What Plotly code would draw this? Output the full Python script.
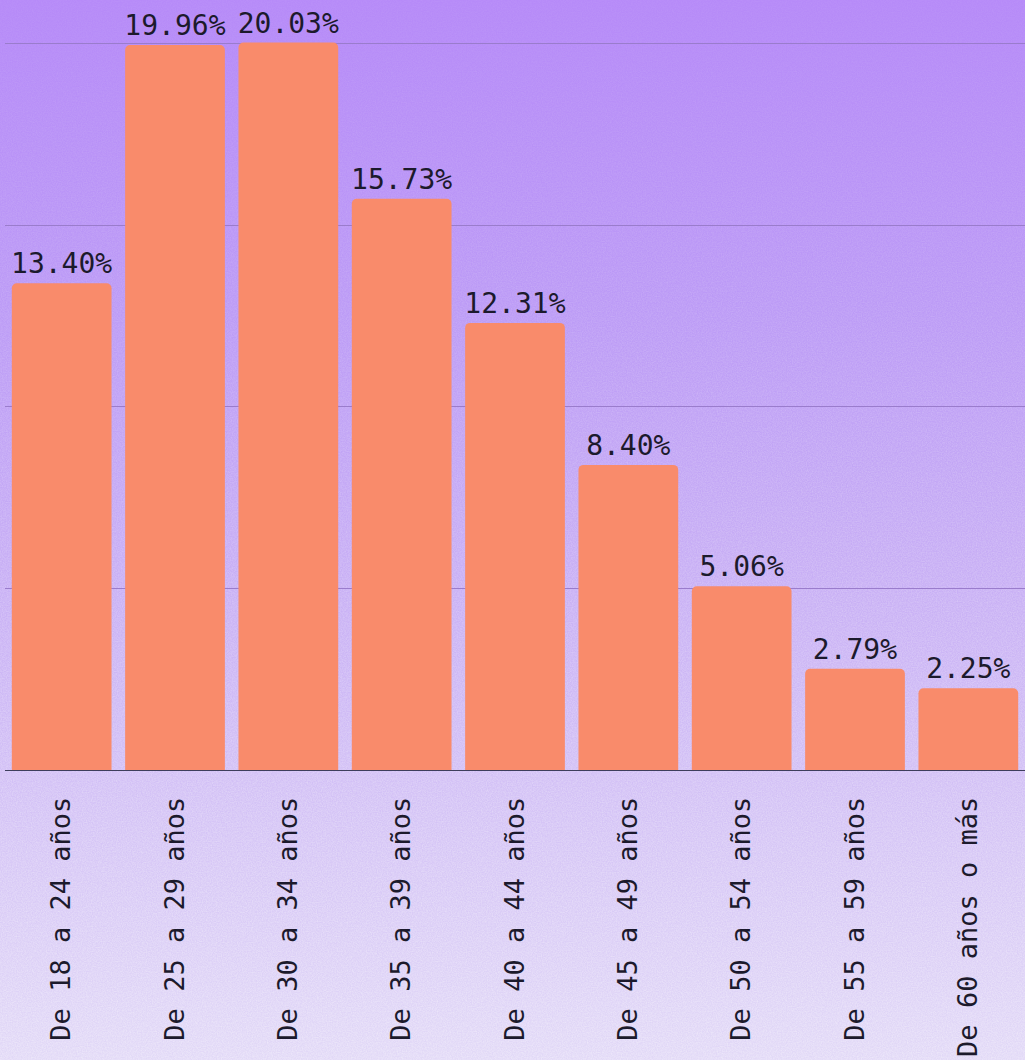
import base64
import plotly.graph_objects as go

categories = ["De 18 a 24 años", "De 25 a 29 años", "De 30 a 34 años", "De 35 a 39 años",
              "De 40 a 44 años", "De 45 a 49 años", "De 50 a 54 años", "De 55 a 59 años",
              "De 60 años o más"]
values = [13.40, 19.96, 20.03, 15.73, 12.31, 8.40, 5.06, 2.79, 2.25]

W, H = 1025, 1060
ML, MR, MT, MB = 5, 0, 0, 290
PW, PH = W - ML - MR, H - MT - MB

svg = f"""<svg xmlns='http://www.w3.org/2000/svg' width='{W}' height='{H}' viewBox='0 0 {W} {H}' preserveAspectRatio='none'>
<defs>
<linearGradient id='g' x1='0' y1='0' x2='0' y2='1'>
<stop offset='0' stop-color='#b68af8'/>
<stop offset='0.3' stop-color='#bc9bf6'/>
<stop offset='0.55' stop-color='#c8aff5'/>
<stop offset='0.8' stop-color='#d6c6f6'/>
<stop offset='1' stop-color='#e2d9f7'/>
</linearGradient>
<filter id='n'><feTurbulence type='fractalNoise' baseFrequency='0.8' numOctaves='2' seed='3'/>
<feColorMatrix type='matrix' values='0 0 0 0 1  0 0 0 0 1  0 0 0 0 1  0 0 0 0.6 -0.15'/></filter>
<linearGradient id='m' x1='0' y1='0' x2='0' y2='1'>
<stop offset='0' stop-color='white' stop-opacity='0.15'/>
<stop offset='1' stop-color='white' stop-opacity='1'/>
</linearGradient>
<mask id='mk'><rect width='{W}' height='{H}' fill='url(#m)'/></mask>
</defs>
<rect width='{W}' height='{H}' fill='url(#g)'/>
<rect width='{W}' height='{H}' filter='url(#n)' mask='url(#mk)'/>
</svg>"""
src = "data:image/svg+xml;base64," + base64.b64encode(svg.encode()).decode()

fig = go.Figure(go.Bar(
    x=categories, y=values,
    marker=dict(color="#f98b6b", line=dict(width=0)),
    text=values, texttemplate="%{y:.2f}%", textposition="outside",
    textfont=dict(family="DejaVu Sans Mono", size=28, color="#1c1a2c"),
    constraintext="none", cliponaxis=False,
))

fig.update_layout(
    width=W, height=H,
    margin=dict(l=ML, r=MR, t=MT, b=MB),
    paper_bgcolor="#c8aff5", plot_bgcolor="rgba(0,0,0,0)",
    bargap=0.12, barcornerradius=5,
    showlegend=False,
    images=[dict(source=src, xref="paper", yref="paper",
                 x=-ML / PW, y=1 + MT / PH, sizex=W / PW, sizey=H / PH,
                 xanchor="left", yanchor="top", sizing="stretch", layer="below")],
    xaxis=dict(tickangle=-90, tickfont=dict(family="DejaVu Sans Mono", size=27, color="#1c1a2c"),
               showline=True, linecolor="#3e3e5c", linewidth=1, ticks="",
               ticklabelstandoff=15),
    yaxis=dict(range=[0, 21.2], dtick=5, showticklabels=False, showgrid=True,
               gridcolor="#9a7ccc", gridwidth=1, zeroline=False),
)

fig.write_html("out.html", config={"displayModeBar": False},
               post_script="document.body.style.margin='0';document.body.style.overflow='hidden';")
